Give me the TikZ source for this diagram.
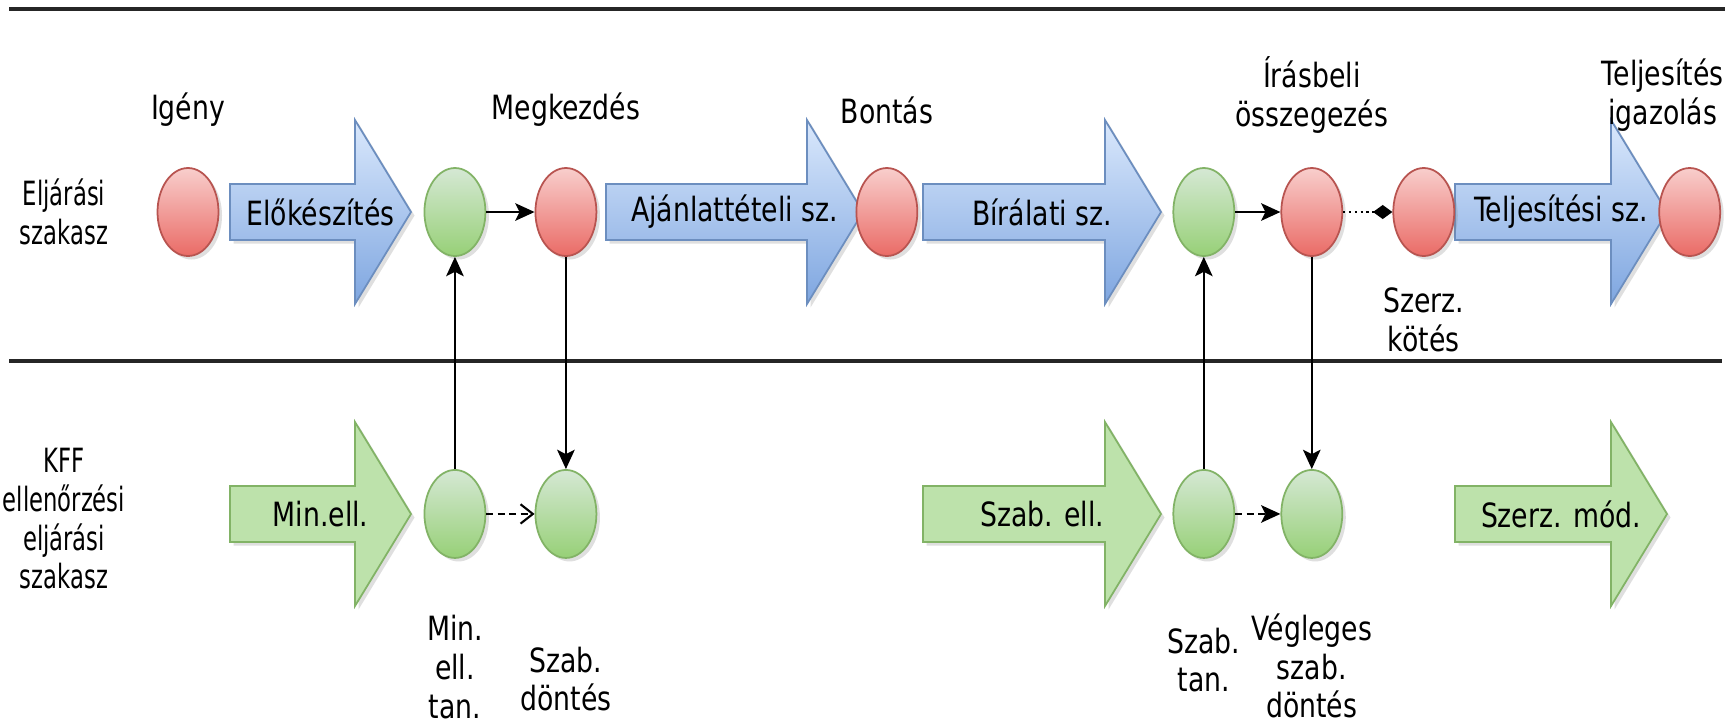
\documentclass[tikz,border=0pt]{standalone}
\usepackage{fontspec}
\setmainfont{DejaVu Sans}[FakeStretch=0.8]
\newfontfamily\keskeny{DejaVu Sans}[FakeStretch=0.68]
\usetikzlibrary{positioning, arrows.meta, shadows, shapes.geometric}
\definecolor{pirosfel}{HTML}{F8CECC}
\definecolor{pirosle}{HTML}{EA6B66}
\definecolor{pirosvonal}{HTML}{B85450}
\definecolor{zoldfel}{HTML}{D5E8D4}
\definecolor{zoldle}{HTML}{97D077}
\definecolor{zoldvonal}{HTML}{82B366}
\definecolor{kekfel}{HTML}{DAE8FC}
\definecolor{kekle}{HTML}{7EA6E0}
\definecolor{kekvonal}{HTML}{6C8EBF}
\definecolor{zoldnyil}{HTML}{BDE2AB}
\tikzset{
	x=0.02cm, y=-0.02cm, % egy egyseg egy kepkocka, lefele no
	every node/.style={font=\fontsize{19}{22}\selectfont, align=center}, % betuk
	sav/.style={font=\fontsize{19}{22}\selectfont\keskeny}, % sávnevek bal oldalt
	arnyek/.style={drop shadow={shadow xshift=2pt, shadow yshift=-2pt, opacity=0.25}}, % arnyek
	pont/.style={ellipse, minimum width=1.22cm, minimum height=1.76cm, line width=1pt, arnyek}, % esemenyek
	piros/.style={pont, draw=pirosvonal, top color=pirosfel, bottom color=pirosle},
	zold/.style={pont, draw=zoldvonal, top color=zoldfel, bottom color=zoldle},
	kekfazis/.style={draw=kekvonal, line width=1pt, top color=kekfel, bottom color=kekle, arnyek}, % szakaszok
	zoldfazis/.style={draw=zoldvonal, line width=1pt, fill=zoldnyil, arnyek},
	nyil/.style={-{Stealth[length=11pt, width=10pt, inset=2.5pt]}, line width=1.2pt}, % kapcsolatok
	szaggatott/.style={line width=1.2pt, dash pattern=on 4pt off 2.5pt},
	vonal/.style={line width=2pt, draw=black!85} % sávhatárok
}

\begin{document}
\begin{tikzpicture}
	\path[use as bounding box, fill=white] (0,0) rectangle (1731,725);
	\draw[vonal] (9,9) -- (1725,9);
	\draw[vonal] (9,361) -- (1722,361);

	% szakasz nyilak
	\foreach \xa/\xb/\nev/\szoveg in {230/411/elokeszites/Előkészítés, 606/863/ajanlat/Ajánlattételi sz., 923/1161/biralat/Bírálati sz., 1455/1667/teljesites/Teljesítési sz.}{
		\draw[kekfazis] (\xa,212-28) -- (\xb-56,212-28) -- (\xb-56,212-92) -- (\xb,212) -- (\xb-56,212+92) -- (\xb-56,212+28) -- (\xa,212+28) -- cycle;
		\node (\nev) at ({(\xa+\xb)/2},212) {\szoveg};
	}
	\foreach \xa/\xb/\nev/\szoveg in {230/411/minell/Min.ell., 923/1161/szabell/Szab. ell., 1455/1667/szerzmod/Szerz. mód.}{
		\draw[zoldfazis] (\xa,514-28) -- (\xb-56,514-28) -- (\xb-56,514-92) -- (\xb,514) -- (\xb-56,514+92) -- (\xb-56,514+28) -- (\xa,514+28) -- cycle;
		\node (\nev) at ({(\xa+\xb)/2},514) {\szoveg};
	}

	% esemenyek
	\node[piros] (igeny) at (188,212) {};
	\node[zold, right of=igeny, node distance=5.34cm] (zold1) {};
	\node[piros, right of=zold1, node distance=2.22cm] (megkezdes) {};
	\node[piros, right of=megkezdes, node distance=6.42cm] (bontas) {};
	\node[zold, right of=bontas, node distance=6.34cm] (zold2) {};
	\node[piros, right of=zold2, node distance=2.16cm] (osszegezes) {};
	\node[piros, right of=osszegezes, node distance=2.24cm] (kotes) {};
	\node[piros, right of=kotes, node distance=5.32cm] (igazolas) {};
	\node[zold, below of=zold1, node distance=6.04cm] (mintan) {};
	\node[zold, below of=megkezdes, node distance=6.04cm] (szabdont) {};
	\node[zold, below of=zold2, node distance=6.04cm] (szabtan) {};
	\node[zold, below of=osszegezes, node distance=6.04cm] (vegleges) {};

	% feliratok
	\node[sav] at (64,212) {Eljárási\\szakasz};
	\node[sav] at (64,519) {KFF\\ellenőrzési\\eljárási\\szakasz};
	\node at ([yshift=2.04cm]igeny) {Igény};
	\node at ([yshift=2.04cm]megkezdes) {Megkezdés};
	\node at ([yshift=2.04cm]bontas) {Bontás};
	\node at ([yshift=2.34cm]osszegezes) {Írásbeli\\összegezés};
	\node at ([xshift=-0.54cm, yshift=2.34cm]igazolas) {Teljesítés\\igazolás};
	\node at ([yshift=-2.16cm]kotes) {Szerz.\\kötés};
	\node at ([yshift=-3.06cm]mintan) {Min.\\ell.\\tan.};
	\node at ([yshift=-3.3cm]szabdont) {Szab.\\döntés};
	\node at ([yshift=-2.92cm]szabtan) {Szab.\\tan.};
	\node at ([yshift=-3.04cm]vegleges) {Végleges\\szab.\\döntés};

	% kapcsolatok
	\draw[nyil] (zold1) -- (megkezdes);
	\draw[nyil] (mintan) -- (zold1);
	\draw[nyil] (megkezdes) -- (szabdont);
	\draw[szaggatott, -{Straight Barb[length=7pt, width=11pt]}] (mintan) -- (szabdont);
	\draw[nyil] (zold2) -- (osszegezes);
	\draw[nyil] (szabtan) -- (zold2);
	\draw[nyil] (osszegezes) -- (vegleges);
	\draw[szaggatott, -{Stealth[length=11pt, width=10pt, inset=2.5pt]}] (szabtan) -- (vegleges);
	\draw[line width=1.3pt, dotted, -{Diamond[length=11pt, width=8pt]}] (osszegezes) -- (kotes);
\end{tikzpicture}
\end{document}
